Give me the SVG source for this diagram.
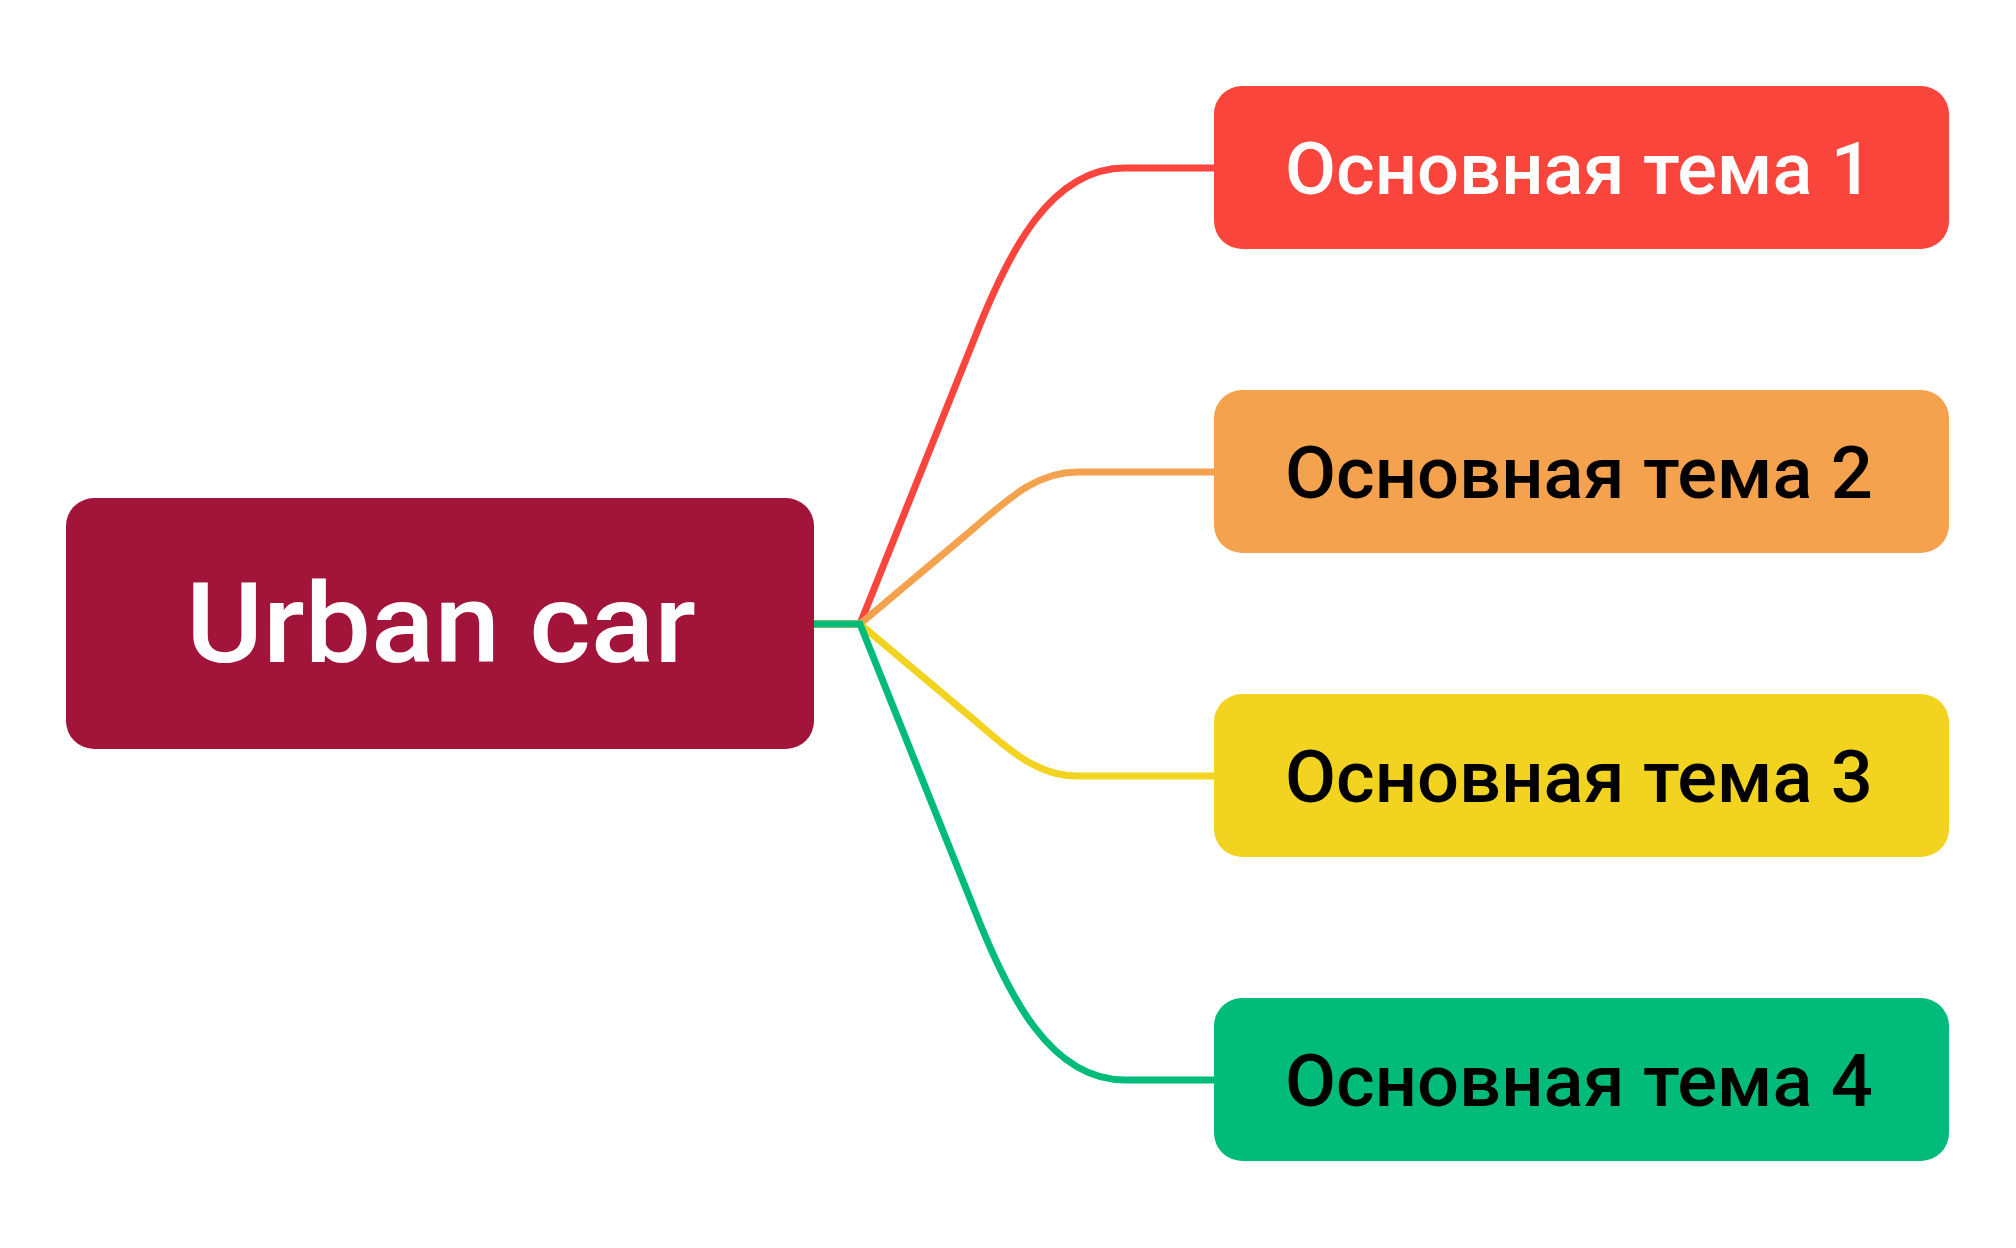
<svg xmlns="http://www.w3.org/2000/svg" width="2016" height="1248" viewBox="0 0 2016 1248">
<style>
.conn{fill:none;stroke-width:7;stroke-linejoin:miter}
.lbl{font-family:Roboto,"Noto Sans",sans-serif;font-weight:500}
.t{font-size:72px}
</style>
<rect width="2016" height="1248" fill="#ffffff"/>
<g id="connectors">
<path class="conn" stroke="#FA453C" d="M814,624 H860 L975,337 C1008,253 1050,168 1125,168 H1214"/>
<path class="conn" stroke="#F5A24E" d="M814,624 H860 L973,529 C1005,502 1035,472 1077,472 H1214"/>
<path class="conn" stroke="#F1D320" d="M814,624 H860 L973,719 C1005,746 1035,776 1077,776 H1214"/>
<path class="conn" stroke="#00BB7A" d="M814,624 H860 L975,911 C1008,995 1050,1080 1125,1080 H1214"/>
</g>
<g id="center">
<rect x="66" y="498" width="748" height="251" rx="28" fill="#A21439"/>
<text class="lbl" x="441" y="662" font-size="112" text-anchor="middle" fill="#ffffff" textLength="510" lengthAdjust="spacingAndGlyphs">Urban car</text>
</g>
<g id="topic1">
<rect x="1214" y="86" width="735" height="163" rx="28" fill="#FA453C"/>
<text class="lbl t" x="1285" y="194" fill="#ffffff" textLength="588" lengthAdjust="spacingAndGlyphs">Основная тема 1</text>
</g>
<g id="topic2">
<rect x="1214" y="390" width="735" height="163" rx="28" fill="#F5A24E"/>
<text class="lbl t" x="1285" y="498" fill="#000000" textLength="588" lengthAdjust="spacingAndGlyphs">Основная тема 2</text>
</g>
<g id="topic3">
<rect x="1214" y="694" width="735" height="163" rx="28" fill="#F1D320"/>
<text class="lbl t" x="1285" y="802" fill="#000000" textLength="588" lengthAdjust="spacingAndGlyphs">Основная тема 3</text>
</g>
<g id="topic4">
<rect x="1214" y="998" width="735" height="163" rx="28" fill="#00BB7A"/>
<text class="lbl t" x="1285" y="1106" fill="#000000" textLength="588" lengthAdjust="spacingAndGlyphs">Основная тема 4</text>
</g>
</svg>
